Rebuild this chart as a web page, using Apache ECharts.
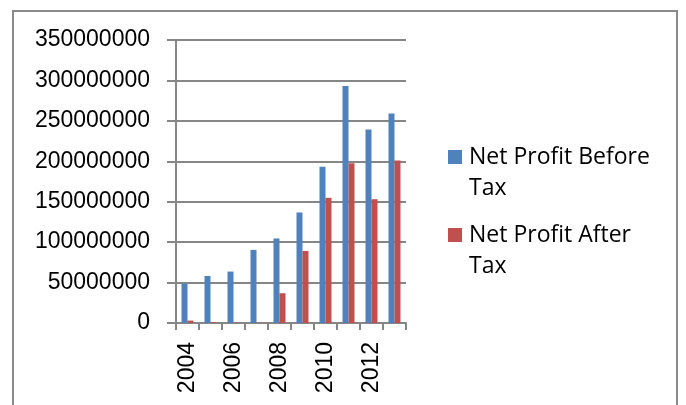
<!DOCTYPE html>
<html>
<head>
<meta charset="utf-8">
<script src="https://cdn.jsdelivr.net/npm/echarts@6/dist/echarts.min.js"></script>
<style>
  html, body { margin: 0; padding: 0; background: #fff; }
  .wrap { position: relative; width: 686px; height: 405px; overflow: hidden; }
  .frame {
    position: absolute; left: 12px; top: 10px; width: 666px; height: 420px;
    border: 2px solid #8a8a8a; box-sizing: border-box;
  }
  #chart { position: absolute; left: 0; top: 0; width: 686px; height: 405px; }
</style>
</head>
<body>
<div class="wrap">
  <div class="frame"></div>
  <div id="chart"></div>
</div>
<script>
var years = ['2004', '2005', '2006', '2007', '2008', '2009', '2010', '2011', '2012', '2013'];
var beforeTax = [48800000, 58200000, 63600000, 90400000, 104500000, 136700000, 193100000, 293000000, 239400000, 259200000];
var afterTax = [3000000, 1000000, 500000, 300000, 36800000, 89100000, 154800000, 197700000, 153100000, 201000000];
var seriesNames = ['Net Profit Before Tax', 'Net Profit After Tax'];
var legendText = {
  'Net Profit Before Tax': 'Net Profit Before\nTax',
  'Net Profit After Tax': 'Net Profit After\nTax'
};

var font = 'Open Sans';
var chart = echarts.init(document.getElementById('chart'), null, { renderer: 'canvas' });

chart.setOption({
  backgroundColor: 'transparent',
  animation: false,
  grid: { left: 176, right: 280, top: 40, bottom: 82, containLabel: false },
  legend: {
    orient: 'vertical',
    left: 443,
    top: 137,
    itemWidth: 14,
    itemHeight: 46,
    itemGap: 16,
    icon: 'path://M0,0h14v14h-14z M0,46h0.01',
    formatter: function (name) { return legendText[name]; },
    textStyle: { fontFamily: font, fontSize: 23, color: '#000', lineHeight: 31, padding: [0, 0, 0, 2] },
    data: seriesNames
  },
  xAxis: {
    type: 'category',
    data: years,
    axisLine: { lineStyle: { color: '#868686', width: 2 } },
    axisTick: { show: true, length: 7, alignWithLabel: false, interval: 0, lineStyle: { color: '#868686', width: 2 } },
    axisLabel: { interval: 1, rotate: 90, margin: 19, fontFamily: 'Liberation Sans', fontSize: 23, color: '#000' }
  },
  yAxis: {
    type: 'value',
    min: 0,
    max: 350000000,
    interval: 50000000,
    axisLine: { show: true, lineStyle: { color: '#868686', width: 2 } },
    axisTick: { show: true, length: 9, lineStyle: { color: '#868686', width: 2 } },
    splitLine: { lineStyle: { color: '#868686', width: 2 } },
    axisLabel: {
      margin: 26, fontFamily: 'Liberation Sans', fontSize: 23, color: '#000',
      formatter: function (v) { return String(v); }
    }
  },
  series: [
    {
      name: seriesNames[0],
      type: 'bar',
      data: beforeTax,
      barWidth: 6,
      barGap: '0%',
      itemStyle: { color: '#4F81BD' }
    },
    {
      name: seriesNames[1],
      type: 'bar',
      data: afterTax,
      barWidth: 6,
      barGap: '0%',
      itemStyle: { color: '#C0504D' }
    }
  ]
});
</script>
</body>
</html>
